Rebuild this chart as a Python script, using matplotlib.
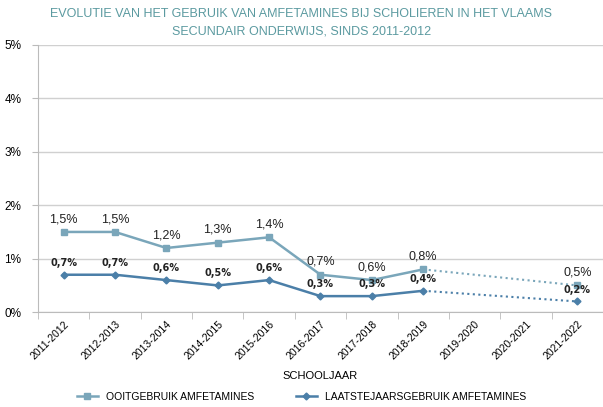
import numpy as np
import matplotlib.pyplot as plt
from matplotlib.ticker import FixedLocator

years = ['2011-2012', '2012-2013', '2013-2014', '2014-2015', '2015-2016', '2016-2017',
         '2017-2018', '2018-2019', '2019-2020', '2020-2021', '2021-2022']
ooit = [1.5, 1.5, 1.2, 1.3, 1.4, 0.7, 0.6, 0.8, np.nan, np.nan, 0.5]
laatst = [0.7, 0.7, 0.6, 0.5, 0.6, 0.3, 0.3, 0.4, np.nan, np.nan, 0.2]

plt.rcParams['font.family'] = ['Liberation Sans', 'DejaVu Sans']

c_ooit = '#7aa6ba'
c_laatst = '#4b7fa8'
grid_c = '#d0d0d0'

fig = plt.figure(figsize=(6.03, 4.07), dpi=100)
ax = fig.add_axes([0.063, 0.233, 0.937, 0.657])

x = np.arange(len(years))
ax.plot(x, ooit, color=c_ooit, lw=1.8, marker='s', ms=5, label='OOITGEBRUIK AMFETAMINES')
ax.plot(x, laatst, color=c_laatst, lw=1.8, marker='D', ms=3.5, label='LAATSTEJAARSGEBRUIK AMFETAMINES')

# dotted connection over the missing years
ax.plot([x[7], x[10]], [ooit[7], ooit[10]], color=c_ooit, lw=1.5, ls=':')
ax.plot([x[7], x[10]], [laatst[7], laatst[10]], color=c_laatst, lw=1.5, ls=':')

for i, v in enumerate(ooit):
    if not np.isnan(v):
        ax.annotate(f'{v:.1f}%'.replace('.', ','), (x[i], v), xytext=(0, 5),
                    textcoords='offset points', ha='center', va='bottom', fontsize=9, color='#222222')
for i, v in enumerate(laatst):
    if not np.isnan(v):
        ax.annotate(f'{v:.1f}%'.replace('.', ','), (x[i], v), xytext=(0, 5),
                    textcoords='offset points', ha='center', va='bottom', fontsize=7,
                    fontweight='bold', color='#222222', family='DejaVu Sans')

ax.set_xlim(-0.5, len(years) - 0.5)
ax.set_ylim(0, 5)
ax.set_yticks([0, 1, 2, 3, 4, 5])
ax.set_yticklabels([f'{t}%' for t in range(6)], fontsize=8.5)
ax.yaxis.grid(True, color=grid_c, lw=1)
ax.set_axisbelow(True)

ax.set_xticks(x)
ax.set_xticklabels(years, rotation=45, ha='right', rotation_mode='anchor', fontsize=7.5)
ax.tick_params(axis='x', length=0, pad=5)
ax.xaxis.set_minor_locator(FixedLocator(np.arange(-0.5, len(years), 1)))
ax.tick_params(axis='x', which='minor', length=5, color='#bbbbbb')
ax.tick_params(axis='y', length=4, color='#bbbbbb', pad=8)

for s in ['top', 'right']:
    ax.spines[s].set_visible(False)
for s in ['left', 'bottom']:
    ax.spines[s].set_color('#bbbbbb')

ax.set_xlabel('SCHOOLJAAR', fontsize=8, labelpad=7)
fig.suptitle('EVOLUTIE VAN HET GEBRUIK VAN AMFETAMINES BIJ SCHOLIEREN IN HET VLAAMS\nSECUNDAIR ONDERWIJS, SINDS 2011-2012',
             y=0.98, fontsize=9, color='#5b9aa0', linespacing=1.6)

fig.legend(loc='lower center', bbox_to_anchor=(0.5, -0.01), ncol=2, frameon=False,
           fontsize=7.5, handlelength=2, columnspacing=4)

fig.savefig('out.png', dpi=100)
